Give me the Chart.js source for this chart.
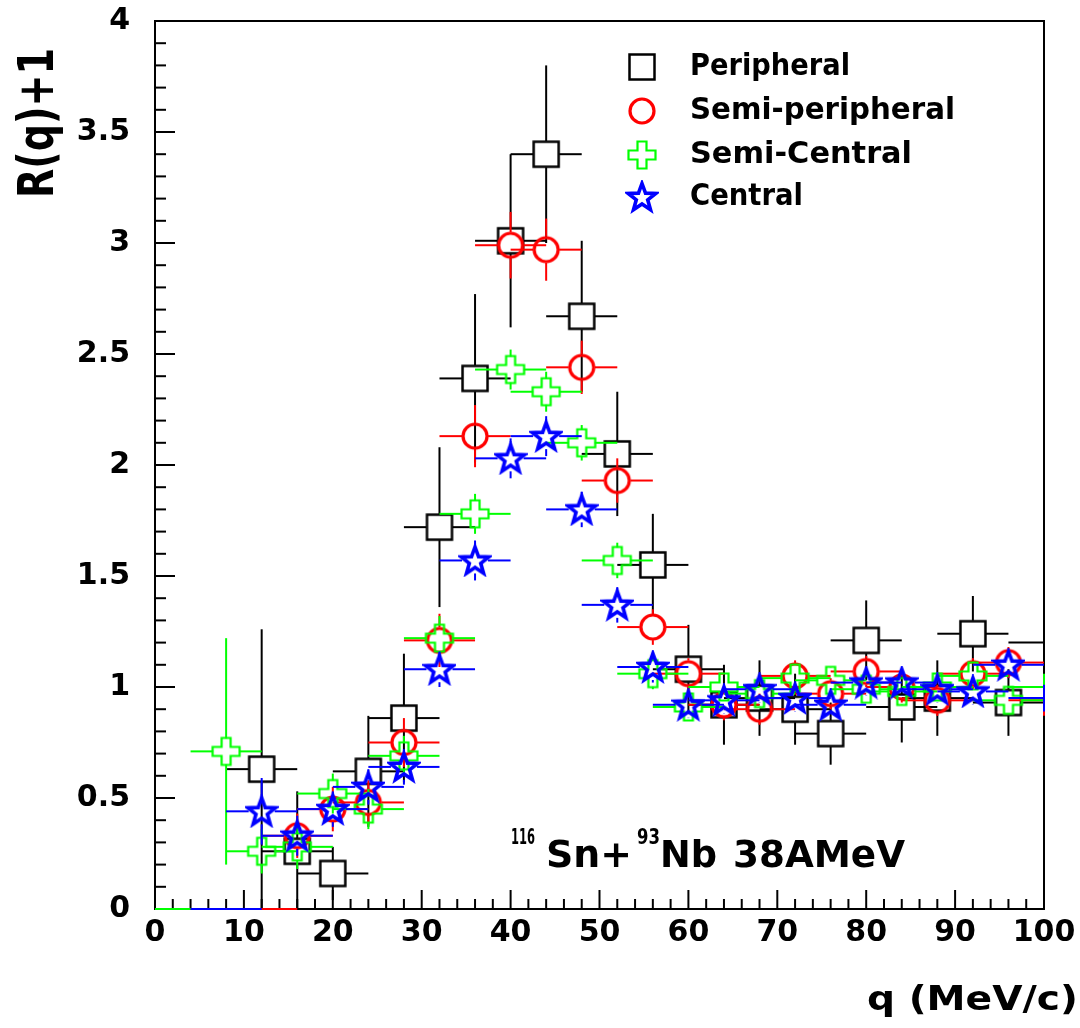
<!DOCTYPE html>
<html>
<head>
<meta charset="utf-8">
<script src="https://cdn.jsdelivr.net/npm/chart.js@4/dist/chart.umd.min.js"></script>
<style>
html,body{margin:0;padding:0;background:#fff;}
canvas{display:block;}
</style>
</head>
<body>
<canvas id="c" width="1080" height="1028"></canvas>
<script>
// ---------------- data ----------------
const qValues = [4, 8, 12, 16, 20, 24, 28, 32, 36, 40, 44, 48, 52, 56, 60, 64, 68, 72, 76, 80, 84, 88, 92, 96, 100];
const qHalfWidth = 4;

const peripheral    = [0, 0, 0.63, 0.26, 0.16, 0.62, 0.86, 1.72, 2.39, 3.01, 3.40, 2.67, 2.05, 1.55, 1.08, 0.92, 0.95, 0.90, 0.79, 1.21, 0.91, 0.95, 1.24, 0.93, 1.20];
const peripheralErr = [0, 0, 0.63, 0.27, 0.12, 0.25, 0.29, 0.36, 0.38, 0.39, 0.40, 0.34, 0.28, 0.23, 0.20, 0.18, 0.17, 0.16, 0.14, 0.18, 0.16, 0.17, 0.17, 0.15, 0.17];

const semiPeripheral    = [0, 0, 0, 0.33, 0.45, 0.48, 0.75, 1.21, 2.13, 2.99, 2.97, 2.44, 1.93, 1.27, 1.06, 0.92, 0.90, 1.05, 0.97, 1.07, 1.00, 0.94, 1.06, 1.11, 0.94];
const semiPeripheralErr = [0, 0, 0, 0.10, 0.10, 0.10, 0.11, 0.12, 0.14, 0.15, 0.14, 0.12, 0.10, 0.08, 0.07, 0.07, 0.07, 0.07, 0.07, 0.07, 0.07, 0.07, 0.07, 0.07, 0.07];

const semiCentral    = [0, 0.71, 0.26, 0.28, 0.52, 0.45, 0.69, 1.22, 1.78, 2.43, 2.33, 2.10, 1.57, 1.06, 0.91, 1.00, 0.97, 1.04, 1.03, 0.99, 0.98, 1.00, 1.05, 0.94, 1.00];
const semiCentralErr = [0, 0.51, 0.10, 0.10, 0.09, 0.09, 0.09, 0.10, 0.09, 0.09, 0.09, 0.08, 0.08, 0.07, 0.06, 0.06, 0.06, 0.06, 0.06, 0.06, 0.06, 0.06, 0.06, 0.06, 0.06];

const central    = [null, 0, 0.44, 0.33, 0.45, 0.55, 0.64, 1.08, 1.57, 2.03, 2.13, 1.80, 1.37, 1.09, 0.92, 0.94, 0.99, 0.95, 0.92, 1.02, 1.02, 0.99, 0.98, 1.10, 0.95];
const centralErr = [null, 0, 0.15, 0.09, 0.08, 0.08, 0.08, 0.08, 0.09, 0.09, 0.09, 0.08, 0.08, 0.07, 0.06, 0.06, 0.06, 0.06, 0.06, 0.06, 0.06, 0.06, 0.06, 0.06, 0.06];

const seriesNames = ['Peripheral', 'Semi-peripheral', 'Semi-Central', 'Central'];

const xTickValues = [0, 10, 20, 30, 40, 50, 60, 70, 80, 90, 100];
const xTickLabels = ['0', '10', '20', '30', '40', '50', '60', '70', '80', '90', '100'];
const yTickValues = [0, 0.5, 1, 1.5, 2, 2.5, 3, 3.5, 4];
const yTickLabels = ['0', '0.5', '1', '1.5', '2', '2.5', '3', '3.5', '4'];

const xAxisTitle = 'q (MeV/c)';
const yAxisTitle = 'R(q)+1';
const reactionParts = ['116', 'Sn+', '93', 'Nb', '38AMeV'];

// ---------------- styling ----------------
const FONT = '"DejaVu Sans", "Liberation Sans", sans-serif';
const X_MIN = 0, X_MAX = 100, Y_MIN = 0, Y_MAX = 4;
const GAP = 13;

function makeMarker(kind, color) {
  const s = 34, m = s / 2;
  const c = document.createElement('canvas');
  c.width = s; c.height = s;
  const g = c.getContext('2d');
  g.strokeStyle = color;
  g.lineJoin = 'miter';
  if (kind === 'square') {
    g.lineWidth = 2.5;
    g.strokeRect(m - 12.5, m - 12.5, 25, 25);
  } else if (kind === 'circle') {
    g.lineWidth = 3.2;
    g.beginPath(); g.arc(m, m, 12, 0, Math.PI * 2); g.stroke();
  } else if (kind === 'cross') {
    g.lineWidth = 2.2;
    const a = 13.5, b = 4.5;
    const pts = [[-b,-a],[b,-a],[b,-b],[a,-b],[a,b],[b,b],[b,a],[-b,a],[-b,b],[-a,b],[-a,-b],[-b,-b]];
    g.beginPath();
    pts.forEach((p, i) => i ? g.lineTo(m + p[0], m + p[1]) : g.moveTo(m + p[0], m + p[1]));
    g.closePath(); g.stroke();
  } else {
    g.lineWidth = 3.6;
    const R = 14.5, r = 6.0;
    g.beginPath();
    for (let i = 0; i < 10; i++) {
      const ang = -Math.PI / 2 + i * Math.PI / 5;
      const rr = i % 2 ? r : R;
      const px = m + rr * Math.cos(ang), py = m + 1 + rr * Math.sin(ang);
      i ? g.lineTo(px, py) : g.moveTo(px, py);
    }
    g.closePath(); g.stroke();
  }
  return c;
}

const seriesStyle = [
  { color: '#000000', marker: makeMarker('square', '#000000'), order: 4 },
  { color: '#ff0000', marker: makeMarker('circle', '#ff0000'), order: 3 },
  { color: '#00ff00', marker: makeMarker('cross',  '#00ff00'), order: 2 },
  { color: '#0000ff', marker: makeMarker('star',   '#0000ff'), order: 1 }
];

function buildPoints(vals, errs) {
  const pts = [];
  qValues.forEach((q, i) => {
    if (vals[i] === null) return;
    pts.push({ x: q, y: vals[i], xerr: qHalfWidth, yerr: errs[i] });
  });
  return pts;
}

const seriesData = [
  buildPoints(peripheral, peripheralErr),
  buildPoints(semiPeripheral, semiPeripheralErr),
  buildPoints(semiCentral, semiCentralErr),
  buildPoints(central, centralErr)
];

function markerVisible(p) { return p && p.y > Y_MIN && p.x < X_MAX; }

const datasets = seriesData.map((data, k) => ({
  label: seriesNames[k],
  data: data,
  borderColor: seriesStyle[k].color,
  backgroundColor: seriesStyle[k].color,
  pointStyle: seriesStyle[k].marker,
  pointRadius: ctx => markerVisible(ctx.raw) ? 13 : 0,
  showLine: false,
  order: seriesStyle[k].order,
  clip: 1
}));

function seg(ctx, x1, y1, x2, y2) {
  ctx.beginPath(); ctx.moveTo(x1, y1); ctx.lineTo(x2, y2); ctx.stroke();
}

const frameTicksPlugin = {
  id: 'frameTicks',
  beforeDatasetsDraw(chart) {
    const ctx = chart.ctx, ca = chart.chartArea, xs = chart.scales.x, ys = chart.scales.y;
    ctx.save();
    ctx.strokeStyle = '#000'; ctx.lineWidth = 2;
    ctx.strokeRect(ca.left, ca.top, ca.right - ca.left, ca.bottom - ca.top);
    for (let v = X_MIN; v <= X_MAX; v += 2) {
      const px = xs.getPixelForValue(v);
      seg(ctx, px, ca.bottom, px, ca.bottom - (v % 10 === 0 ? 19 : 10));
    }
    for (let k = 0; k <= 40; k++) {
      const py = ys.getPixelForValue(k / 10);
      seg(ctx, ca.left, py, ca.left + (k % 5 === 0 ? 20 : 11), py);
    }
    ctx.restore();
  }
};

const errorBarPlugin = {
  id: 'errorBars',
  beforeDatasetDraw(chart, args) {
    const ds = chart.data.datasets[args.index];
    const ctx = chart.ctx, ca = chart.chartArea, xs = chart.scales.x, ys = chart.scales.y;
    ctx.save();
    ctx.beginPath();
    ctx.rect(ca.left - 1, ca.top - 1, ca.right - ca.left + 2, ca.bottom - ca.top + 2);
    ctx.clip();
    ctx.strokeStyle = ds.borderColor; ctx.lineWidth = 2; ctx.lineCap = 'butt';
    ds.data.forEach(p => {
      const x = xs.getPixelForValue(p.x), y = ys.getPixelForValue(p.y);
      const xl = xs.getPixelForValue(p.x - p.xerr), xr = xs.getPixelForValue(p.x + p.xerr);
      const yt = ys.getPixelForValue(p.y + p.yerr), yb = ys.getPixelForValue(p.y - p.yerr);
      const gap = markerVisible(p) ? GAP : 0;
      if (xl < x - gap) seg(ctx, xl, y, x - gap, y);
      if (xr > x + gap) seg(ctx, x + gap, y, xr, y);
      if (yt < y - gap) seg(ctx, x, y - gap, x, yt);
      if (yb > y + gap) seg(ctx, x, y + gap, x, yb);
    });
    ctx.restore();
  }
};

function fitText(ctx, text, x, y, width, size, align, baseline) {
  ctx.save();
  ctx.font = 'bold ' + size + 'px ' + FONT;
  ctx.textAlign = align || 'left';
  ctx.textBaseline = baseline || 'alphabetic';
  const w = ctx.measureText(text).width;
  ctx.translate(x, y);
  ctx.scale(width / w, 1);
  ctx.fillText(text, 0, 0);
  ctx.restore();
}

const textPlugin = {
  id: 'texts',
  afterDraw(chart) {
    const ctx = chart.ctx;
    ctx.save();
    ctx.fillStyle = '#000';
    // y axis title (rotated)
    ctx.save();
    ctx.translate(53, 198);
    ctx.rotate(-Math.PI / 2);
    fitText(ctx, yAxisTitle, 0, 0, 150, 50, 'left', 'alphabetic');
    ctx.restore();
    // x axis title
    fitText(ctx, xAxisTitle, 1078, 1010, 211, 34, 'right', 'alphabetic');
    // legend
    const rows = [67, 111, 155, 197];
    const widths = [160, 265, 222, 113];
    seriesNames.forEach((name, k) => {
      const mk = seriesStyle[k].marker;
      ctx.drawImage(mk, 642 - mk.width / 2, rows[k] - mk.height / 2);
      fitText(ctx, name, 690, rows[k], widths[k], 30, 'left', 'middle');
    });
    // reaction label
    fitText(ctx, reactionParts[0], 511, 844, 24, 21, 'left', 'alphabetic');
    fitText(ctx, reactionParts[1], 546, 867, 86, 38, 'left', 'alphabetic');
    fitText(ctx, reactionParts[2], 637, 844, 23, 21, 'left', 'alphabetic');
    fitText(ctx, reactionParts[3], 660, 867, 57, 38, 'left', 'alphabetic');
    fitText(ctx, reactionParts[4], 733, 867, 172, 38, 'left', 'alphabetic');
    ctx.restore();
  }
};

new Chart(document.getElementById('c'), {
  type: 'scatter',
  data: { datasets: datasets },
  options: {
    responsive: false,
    animation: false,
    devicePixelRatio: 1,
    events: [],
    layout: { padding: { top: 0, right: 36, left: 0, bottom: 0 } },
    plugins: { legend: { display: false }, tooltip: { enabled: false } },
    scales: {
      x: {
        type: 'linear', min: X_MIN, max: X_MAX,
        grid: { display: false, drawTicks: false },
        border: { display: false },
        afterBuildTicks: s => { s.ticks = xTickValues.map(v => ({ value: v })); },
        afterFit: s => { s.height = 119; s.paddingRight = 36; s.paddingLeft = 0; },
        ticks: {
          callback: (v, i) => xTickLabels[i],
          font: { family: FONT, size: 30, weight: 'bold' },
          color: '#000', padding: 6, maxRotation: 0, autoSkip: false
        }
      },
      y: {
        type: 'linear', min: Y_MIN, max: Y_MAX,
        grid: { display: false, drawTicks: false },
        border: { display: false },
        afterBuildTicks: s => { s.ticks = yTickValues.map(v => ({ value: v })); },
        afterFit: s => { s.width = 155; s.paddingTop = 21; s.paddingBottom = 0; },
        ticks: {
          callback: (v, i) => yTickLabels[i],
          font: { family: FONT, size: 30, weight: 'bold' },
          color: '#000', padding: 25, autoSkip: false
        }
      }
    }
  },
  plugins: [frameTicksPlugin, errorBarPlugin, textPlugin]
});
</script>
</body>
</html>
